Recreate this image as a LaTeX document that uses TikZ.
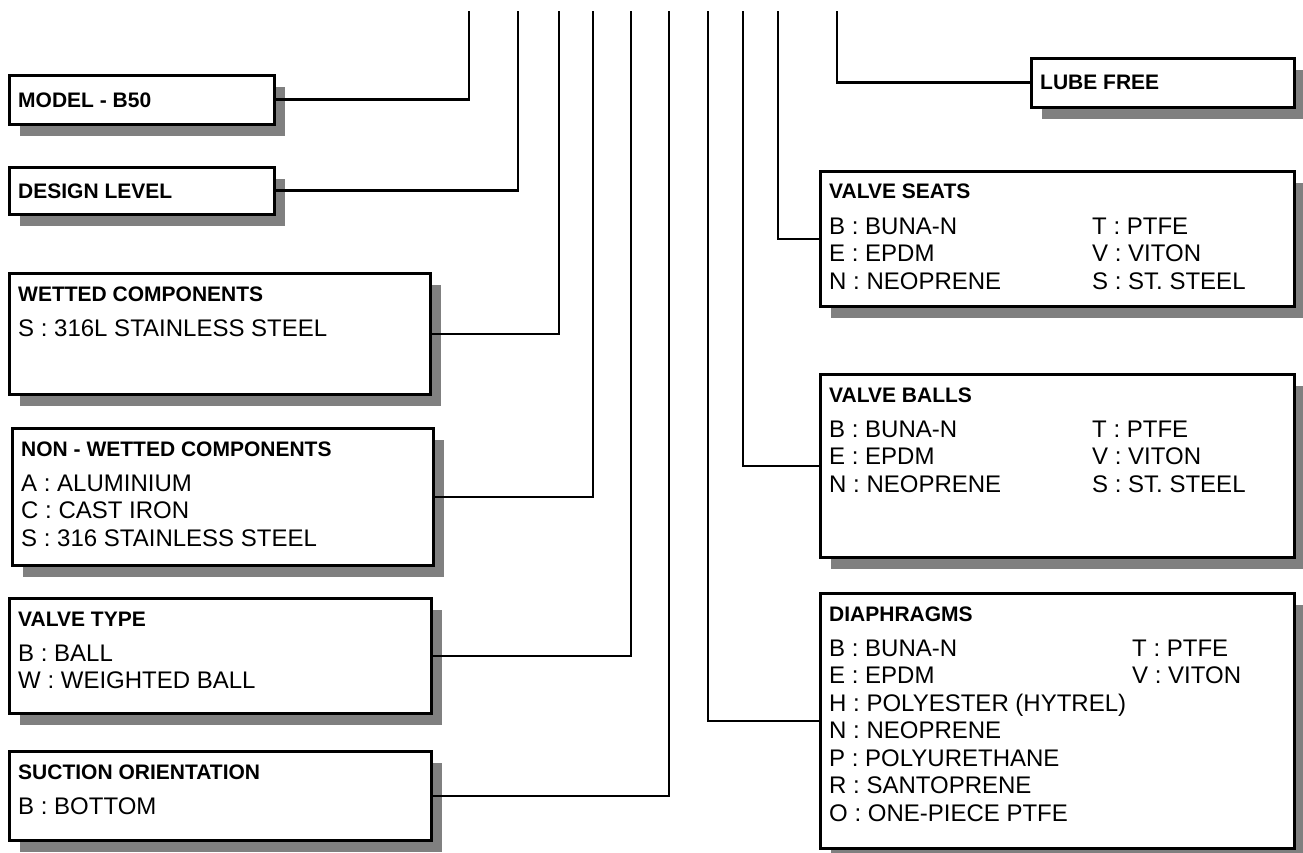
\documentclass[tikz,border=0pt]{standalone}
\usepackage{fontspec}
\setmainfont{Liberation Sans}
\usetikzlibrary{shadows}

\begin{document}
\begin{tikzpicture}[x=1pt,y=-1pt,
  box/.style={draw, line width=2.6pt, fill=white, anchor=north west, inner sep=0pt,
    drop shadow={shadow xshift=11pt, shadow yshift=-12pt, fill=gray, opacity=1}},
  head/.style={anchor=base west, inner sep=0pt, font={\fontsize{21}{25}\selectfont\bfseries}},
  item/.style={anchor=base west, inner sep=0pt, font={\fontsize{24}{27.5}\selectfont}},
  wire/.style={line width=2.6pt}]
\useasboundingbox (0,0) rectangle (1303,853);
\coordinate (A) at (469,11);
\coordinate (B) at (518,11);
\coordinate (C) at (559,11);
\coordinate (D) at (593,11);
\coordinate (E) at (631,11);
\coordinate (F) at (669,11);
\coordinate (G) at (708,11);
\coordinate (H) at (743,11);
\coordinate (I) at (778,11);
\coordinate (J) at (837,11);
% left column
\node[box, minimum width=265pt, minimum height=49pt] (model) at (8,74) {};
\node[head, anchor=west] (model-t) at ([xshift=10pt]model.west) {MODEL - B50};
\node[box, minimum width=265pt, minimum height=47pt] (design) at (8,166) {};
\node[head, anchor=west] (design-t) at ([xshift=10pt]design.west) {DESIGN LEVEL};
\node[box, minimum width=421pt, minimum height=121pt] (wet) at (8,272) {};
\node[head] (wet-t) at (18,301) {WETTED COMPONENTS};
\node[item] (wet-i) at (18,336) {S : 316L STAINLESS STEEL};
\node[box, minimum width=421pt, minimum height=137pt] (nonwet) at (11,427) {};
\node[head] (nonwet-t) at (21,456) {NON - WETTED COMPONENTS};
\node[item] (nonwet-i) at (21,491) {\begin{tabular}[t]{@{}l@{}}
A : ALUMINIUM\\ C : CAST IRON\\ S : 316 STAINLESS STEEL\end{tabular}};
\node[box, minimum width=422pt, minimum height=115pt] (vtype) at (8,597) {};
\node[head] (vtype-t) at (18,626) {VALVE TYPE};
\node[item] (vtype-i) at (18,661) {\begin{tabular}[t]{@{}l@{}}
B : BALL\\ W : WEIGHTED BALL\end{tabular}};
\node[box, minimum width=422pt, minimum height=89pt] (suction) at (8,750) {};
\node[head] (suction-t) at (18,779) {SUCTION ORIENTATION};
\node[item] (suction-i) at (18,814) {B : BOTTOM};
% right column
\node[box, minimum width=263pt, minimum height=49pt] (lube) at (1030,57) {};
\node[head, anchor=west] (lube-t) at ([xshift=10pt]lube.west) {LUBE FREE};
\node[box, minimum width=474pt, minimum height=135pt] (seats) at (819,170) {};
\node[head] (seats-t) at (829,199) {VALVE SEATS};
\node[item] (seats-i) at (829,234) {\begin{tabular}[t]{@{}p{263pt}@{}l@{}}
B : BUNA-N & T : PTFE\\ E : EPDM & V : VITON\\ N : NEOPRENE & S : ST. STEEL\end{tabular}};
\node[box, minimum width=474pt, minimum height=183pt] (balls) at (819,373) {};
\node[head] (balls-t) at (829,402) {VALVE BALLS};
\node[item] (balls-i) at (829,437) {\begin{tabular}[t]{@{}p{263pt}@{}l@{}}
B : BUNA-N & T : PTFE\\ E : EPDM & V : VITON\\ N : NEOPRENE & S : ST. STEEL\end{tabular}};
\node[box, minimum width=474pt, minimum height=255pt] (diaph) at (819,592) {};
\node[head] (diaph-t) at (829,621) {DIAPHRAGMS};
\node[item] (diaph-i) at (829,656) {\begin{tabular}[t]{@{}p{303pt}@{}l@{}}
B : BUNA-N & T : PTFE\\ E : EPDM & V : VITON\\ H : POLYESTER (HYTREL) &\\
N : NEOPRENE &\\ P : POLYURETHANE &\\ R : SANTOPRENE &\\ O : ONE-PIECE PTFE &\end{tabular}};
% code lines
\draw[wire] (model.east) -| (A);
\draw[wire] (design.east) -| (B);
\draw[wire] (wet.east) -| (C);
\draw[wire] (nonwet.east) -| (D);
\draw[wire] (vtype.east) -| (E);
\draw[wire] (suction.east) -| (F);
\draw[wire] (diaph.west) -| (G);
\draw[wire] (balls.west) -| (H);
\draw[wire] (seats.west) -| (I);
\draw[wire] (lube.west) -| (J);
\end{tikzpicture}
\end{document}
